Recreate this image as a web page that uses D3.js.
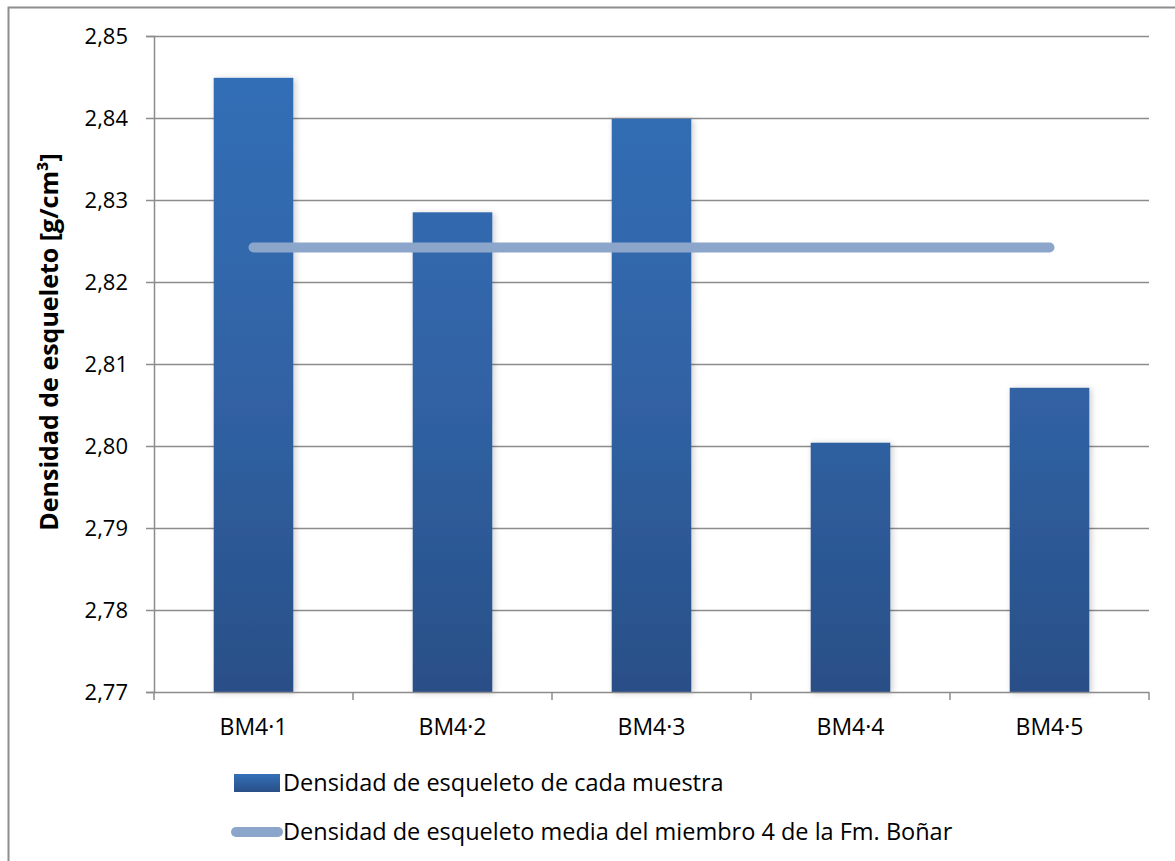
<!DOCTYPE html>
<html>
<head>
<meta charset="utf-8">
<script src="https://cdn.jsdelivr.net/npm/d3@7"></script>
<style>
  html, body { margin: 0; padding: 0; background: #fff; }
  svg { display: block; }
  text { font-family: "Open Sans", sans-serif; fill: #000; }
</style>
</head>
<body>
<svg id="chart" width="1175" height="861"></svg>
<script>
// Skeletal density per sample (g/cm³)
const samples = ["BM4·1", "BM4·2", "BM4·3", "BM4·4", "BM4·5"];
const density = [2.8449, 2.8285, 2.8399, 2.8004, 2.8071];
// Mean skeletal density for member 4 of the Boñar Fm.
const meanDensity = [2.8242, 2.8242, 2.8242, 2.8242, 2.8242];
const yTicks = [2.77, 2.78, 2.79, 2.80, 2.81, 2.82, 2.83, 2.84, 2.85];

const seriesNames = [
  "Densidad de esqueleto de cada muestra",
  "Densidad de esqueleto media del miembro 4 de la Fm. Boñar"
];
const yTitle = "Densidad de esqueleto [g/cm³]";

const svg = d3.select("#chart");
const plot = { left: 154, right: 1149, top: 36, bottom: 692 };

const x = d3.scaleBand().domain(samples).range([plot.left, plot.right]).paddingInner(0.6).paddingOuter(0.3);
const xBand = d3.scaleBand().domain(samples).range([plot.left, plot.right]);
const y = d3.scaleLinear().domain([2.77, 2.85]).range([plot.bottom, plot.top]);
const fmt = v => d3.format(".2f")(v).replace(".", ",");

// Chart-area frame
svg.append("path")
  .attr("d", "M8.5,861 L8.5,7.5 L1175,7.5")
  .attr("fill", "none").attr("stroke", "#8e8e8e").attr("stroke-width", 2);

const defs = svg.append("defs");
const grad = defs.append("linearGradient").attr("id", "barFill")
  .attr("gradientUnits", "userSpaceOnUse")
  .attr("x1", 0).attr("x2", 0)
  .attr("y1", plot.top).attr("y2", plot.bottom);
grad.append("stop").attr("offset", "0%").attr("stop-color", "#3370b8");
grad.append("stop").attr("offset", "55%").attr("stop-color", "#3062a4");
grad.append("stop").attr("offset", "100%").attr("stop-color", "#294f87");

const legGrad = defs.append("linearGradient").attr("id", "legFill")
  .attr("x1", 0).attr("y1", 0).attr("x2", 0).attr("y2", 1);
legGrad.append("stop").attr("offset", "0%").attr("stop-color", "#3370b8");
legGrad.append("stop").attr("offset", "100%").attr("stop-color", "#294f87");

const shadow = defs.append("filter").attr("id", "barShadow")
  .attr("x", "-20%").attr("y", "-20%").attr("width", "150%").attr("height", "150%");
shadow.append("feDropShadow").attr("dx", 2).attr("dy", 1).attr("stdDeviation", 3)
  .attr("flood-color", "#000").attr("flood-opacity", 0.2);

// Horizontal gridlines
svg.append("g").selectAll("line").data(yTicks.slice(1)).join("line")
  .attr("x1", plot.left).attr("x2", plot.right)
  .attr("y1", d => Math.round(y(d)) + 0.5).attr("y2", d => Math.round(y(d)) + 0.5)
  .attr("stroke", "#8c8c8c").attr("stroke-width", 1.5);

// Y axis
const yAxis = svg.append("g").attr("transform", `translate(${plot.left},0)`)
  .call(d3.axisLeft(y).tickValues(yTicks).tickFormat(fmt).tickSize(8).tickPadding(18));
yAxis.select(".domain").attr("stroke", "#8c8c8c").attr("stroke-width", 1.5);
yAxis.selectAll(".tick line").attr("stroke", "#8c8c8c").attr("stroke-width", 1.5);
yAxis.selectAll(".tick text").attr("font-size", 22).attr("font-family", "'Open Sans', sans-serif").attr("fill", "#000");

// Bars
svg.append("g").selectAll("rect").data(samples).join("rect")
  .attr("x", d => x(d))
  .attr("width", x.bandwidth())
  .attr("y", (d, i) => y(density[i]))
  .attr("height", (d, i) => y(2.77) - y(density[i]))
  .attr("fill", "url(#barFill)")
  .attr("filter", "url(#barShadow)");

// X axis
const xAxisG = svg.append("g").attr("transform", `translate(0,${plot.bottom})`);
xAxisG.append("line").attr("x1", plot.left).attr("x2", plot.right).attr("y1", 0.5).attr("y2", 0.5)
  .attr("stroke", "#8c8c8c").attr("stroke-width", 1.5);
const bounds = samples.map(s => xBand(s)).concat([plot.right]);
xAxisG.selectAll("line.tk").data(bounds).join("line").attr("class", "tk")
  .attr("x1", d => d).attr("x2", d => d).attr("y1", 0).attr("y2", 8)
  .attr("stroke", "#8c8c8c").attr("stroke-width", 1.5);
xAxisG.selectAll("text").data(samples).join("text")
  .attr("x", d => xBand(d) + xBand.bandwidth() / 2)
  .attr("y", 43)
  .attr("text-anchor", "middle")
  .attr("font-size", 23)
  .text(d => d);

// Mean line
const line = d3.line()
  .x((d, i) => xBand(samples[i]) + xBand.bandwidth() / 2)
  .y(d => y(d));
svg.append("path").datum(meanDensity)
  .attr("d", line)
  .attr("fill", "none").attr("stroke", "#8ca5cb").attr("stroke-width", 10)
  .attr("stroke-linecap", "round");

// Y axis title
svg.append("text")
  .attr("transform", "translate(58,342) rotate(-90)")
  .attr("text-anchor", "middle")
  .attr("font-size", 25).attr("font-weight", "bold")
  .text(yTitle);

// Legend
const leg = svg.append("g");
leg.append("rect").attr("x", 234).attr("y", 774).attr("width", 46).attr("height", 18)
  .attr("fill", "url(#legFill)");
leg.append("text").attr("x", 283).attr("y", 791).attr("font-size", 23.5).text(seriesNames[0]);
leg.append("line").attr("x1", 236).attr("x2", 278).attr("y1", 832).attr("y2", 832)
  .attr("stroke", "#8ca5cb").attr("stroke-width", 10).attr("stroke-linecap", "round");
leg.append("text").attr("x", 283).attr("y", 840).attr("font-size", 23.5).text(seriesNames[1]);
</script>
</body>
</html>
